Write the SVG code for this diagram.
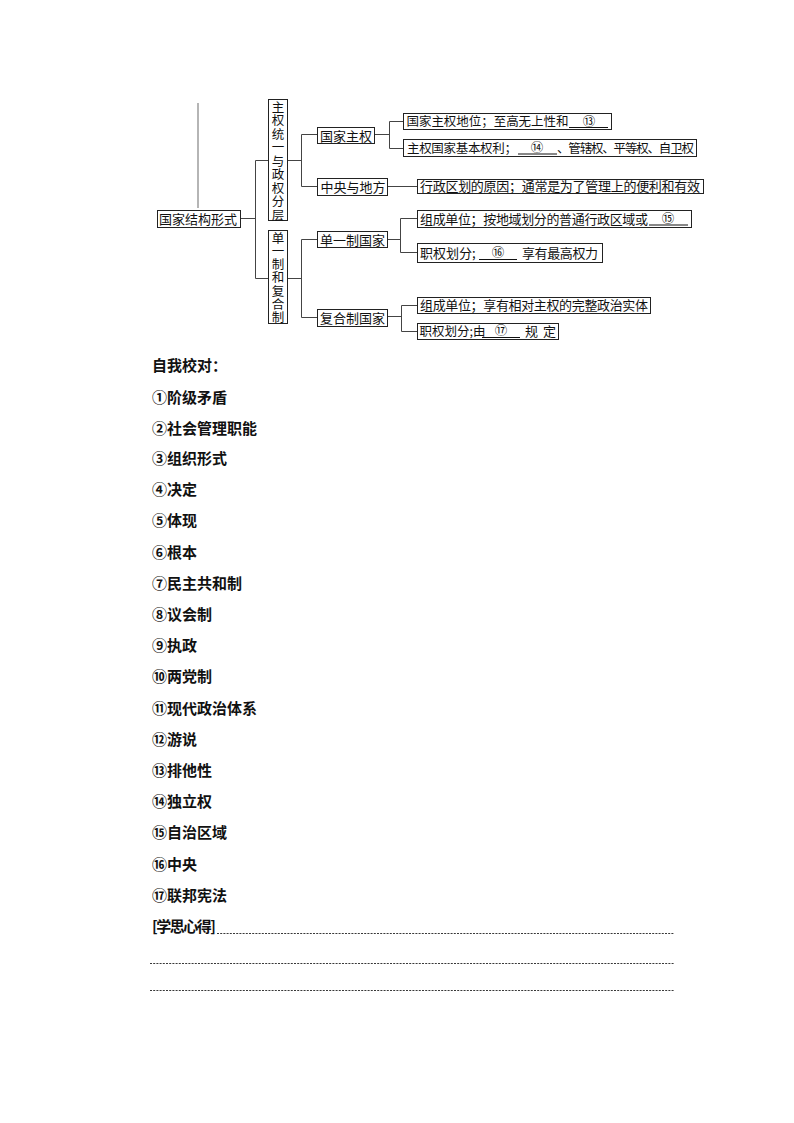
<svg xmlns="http://www.w3.org/2000/svg" width="794" height="1123" viewBox="0 0 794 1123">
<style>
text{font-family:"Noto Sans CJK SC","Noto Sans",sans-serif;fill:#111;}
.box{fill:#fff;stroke:#222;stroke-width:1;}
.t{font-size:13px;}
.s{font-size:12.5px;}
.n{font-size:12.5px;text-anchor:middle;}
.v{font-size:12.5px;writing-mode:vertical-rl;}
.con{fill:none;stroke:#444;stroke-width:1;}
.ul{stroke:#111;stroke-width:1;}
.li{font-size:15px;font-weight:bold;}
.dash{stroke:#222;stroke-width:0.9;stroke-dasharray:2 1.2;}
</style>
<rect width="794" height="1123" fill="#fff"/>
<line x1="198" y1="103" x2="198" y2="208" stroke="#b5b5b5" stroke-width="2"/>
<g id="connectors">
<path class="con" d="M240.5,218.5 H255.5 M255.5,160.5 V278.5 M255.5,160.5 H268.5 M255.5,278.5 H268.5"/>
<path class="con" d="M287.5,160.5 H301.5 M301.5,134.5 V186.5 M301.5,134.5 H317.5 M301.5,186.5 H317.5"/>
<path class="con" d="M287.5,278.5 H301.5 M301.5,239.5 V317.5 M301.5,239.5 H317.5 M301.5,317.5 H317.5"/>
<path class="con" d="M374.5,134.5 H389.5 M389.5,121.5 V148.5 M389.5,121.5 H403.5 M389.5,148.5 H403.5"/>
<path class="con" d="M387.5,186.5 H417.5"/>
<path class="con" d="M387.5,239.5 H400.5 M400.5,218.5 V252.5 M400.5,218.5 H417.5 M400.5,252.5 H417.5"/>
<path class="con" d="M387.5,316.5 H401.5 M401.5,305.5 V331.5 M401.5,305.5 H417.5 M401.5,331.5 H417.5"/>
</g>
<g id="n-root">
<rect class="box" x="157.5" y="210.5" width="83" height="17"/>
<text class="t" x="159" y="224" textLength="78">国家结构形式</text>
</g>
<g id="n-zhuquan">
<rect class="box" x="268.5" y="99.5" width="19" height="121"/>
<text class="v" x="278" y="101" letter-spacing="0.94">主权统一与政权分层</text>
</g>
<g id="n-danyi">
<rect class="box" x="268.5" y="230.5" width="19" height="93"/>
<text class="v" x="278" y="231.5" letter-spacing="0.83">单一制和复合制</text>
</g>
<g id="n-gjzq">
<rect class="box" x="317.5" y="127.5" width="57" height="16"/>
<text class="t" x="320" y="140.5" textLength="52">国家主权</text>
</g>
<g id="n-zydf">
<rect class="box" x="317.5" y="178.5" width="70" height="17"/>
<text class="t" x="320.5" y="191.5" textLength="65">中央与地方</text>
</g>
<g id="n-dyz">
<rect class="box" x="317.5" y="231.5" width="70" height="16"/>
<text class="t" x="320" y="244.5" textLength="65">单一制国家</text>
</g>
<g id="n-fhz">
<rect class="box" x="317.5" y="309.5" width="70" height="17"/>
<text class="t" x="320" y="322.5" textLength="65">复合制国家</text>
</g>
<g id="n-a">
<rect class="box" x="403.5" y="113.5" width="208" height="16"/>
<text class="s" x="406.5" y="126" textLength="162">国家主权地位；至高无上性和</text>
<line class="ul" x1="569" y1="127.5" x2="608" y2="127.5"/>
<text class="n" x="589" y="125.5">⑬</text>
</g>
<g id="n-b">
<rect class="box" x="403.5" y="139.5" width="293" height="17"/>
<text class="s" x="407" y="152.5" textLength="110">主权国家基本权利；</text>
<line class="ul" x1="518" y1="154" x2="557" y2="154"/>
<text class="n" x="537" y="152">⑭</text>
<text class="s" x="557" y="152.5" textLength="137">、管辖权、平等权、自卫权</text>
</g>
<g id="n-c">
<rect class="box" x="417.5" y="179.5" width="286" height="14"/>
<text class="t" x="420" y="191.3" textLength="280">行政区划的原因；通常是为了管理上的便利和有效</text>
</g>
<g id="n-d">
<rect class="box" x="417.5" y="210.5" width="274" height="17"/>
<text class="t" x="420" y="223.5" textLength="228">组成单位；按地域划分的普通行政区域或</text>
<line class="ul" x1="649" y1="225" x2="688" y2="225"/>
<text class="n" x="668" y="223">⑮</text>
</g>
<g id="n-e">
<rect class="box" x="417.5" y="243.5" width="185" height="19"/>
<text class="t" x="420" y="257.5">职权划分;</text>
<line class="ul" x1="479" y1="259.5" x2="517" y2="259.5"/>
<text class="n" x="498" y="257">⑯</text>
<text class="t" x="522" y="257.5" textLength="76">享有最高权力</text>
</g>
<g id="n-f">
<rect class="box" x="417.5" y="297.5" width="233" height="16"/>
<text class="t" x="420" y="310" textLength="228">组成单位；享有相对主权的完整政治实体</text>
</g>
<g id="n-g">
<rect class="box" x="417.5" y="323.5" width="141" height="16"/>
<text class="s" x="419.5" y="336">职权划分;由</text>
<line class="ul" x1="482" y1="337.5" x2="520" y2="337.5"/>
<text class="n" x="501" y="335">⑰</text>
<text class="t" x="525" y="336" textLength="31">规定</text>
</g>
<g id="answers">
<text class="li" x="152" y="370.7">自我校对：</text>
<text class="li" x="152" y="402.5">①阶级矛盾</text>
<text class="li" x="152" y="433.5">②社会管理职能</text>
<text class="li" x="152" y="464">③组织形式</text>
<text class="li" x="152" y="495.2">④决定</text>
<text class="li" x="152" y="526.4">⑤体现</text>
<text class="li" x="152" y="557.6">⑥根本</text>
<text class="li" x="152" y="588.8">⑦民主共和制</text>
<text class="li" x="152" y="620">⑧议会制</text>
<text class="li" x="152" y="651.2">⑨执政</text>
<text class="li" x="152" y="682.4">⑩两党制</text>
<text class="li" x="152" y="713.6">⑪现代政治体系</text>
<text class="li" x="152" y="744.8">⑫游说</text>
<text class="li" x="152" y="776">⑬排他性</text>
<text class="li" x="152" y="807.2">⑭独立权</text>
<text class="li" x="152" y="838.4">⑮自治区域</text>
<text class="li" x="152" y="869.6">⑯中央</text>
<text class="li" x="152" y="900.8">⑰联邦宪法</text>
<text class="li" x="152" y="931.5" textLength="64">[学思心得]</text>
<line class="dash" x1="217" y1="933.5" x2="674" y2="933.5"/>
<line class="dash" x1="150" y1="963.5" x2="674" y2="963.5"/>
<line class="dash" x1="150" y1="990.5" x2="674" y2="990.5"/>
</g>
</svg>
